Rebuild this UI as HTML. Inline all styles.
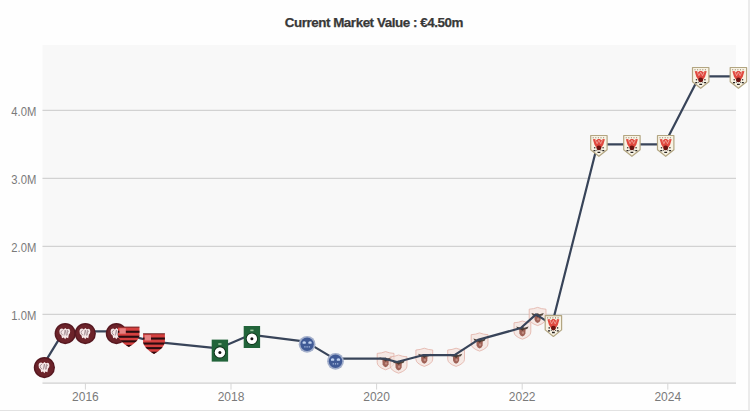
<!DOCTYPE html>
<html><head><meta charset="utf-8">
<style>
html,body{margin:0;padding:0;background:#fff;}
body{width:750px;height:411px;overflow:hidden;position:relative;}
svg{position:absolute;left:0;top:0;}
.yl,.xl{font-family:"Liberation Sans",sans-serif;font-size:12px;fill:#7a7a7a;}
.tt{font-family:"Liberation Sans",sans-serif;font-size:13.4px;font-weight:bold;letter-spacing:-0.45px;fill:#383838;stroke:#383838;stroke-width:0.25px;}
</style></head>
<body>
<svg width="750" height="411" viewBox="0 0 750 411">

<defs>
 <g id="cap">
  <circle cx="0" cy="0" r="10.6" fill="#561820"/>
  <circle cx="0" cy="0" r="9.2" fill="#6c232a"/>
  <path d="M-5.8,-2.2 Q-5.6,-5.2 -3,-5 L-1.5,-4.2 L0,-5.6 L1.6,-4.4 Q4.6,-5.6 5,-2.6 Q5.2,0 3.6,1.2 L3,4.6 L1,3.8 L0,5.6 L-1.4,3.8 L-3.2,4.6 L-3.8,1.8 Q-6,0.8 -5.8,-2.2 Z" fill="#f6e8e8"/>
  <path d="M-2.4,-3.4 Q-4.4,-3 -4.2,-1 Q-4,1 -2.4,1.2 M-1.2,2 L0,-3.6 L1.2,2 M2,-3.4 L2,1.6 M2,-3.4 Q4.2,-3 2.2,-1" stroke="#a08a90" stroke-width="0.85" fill="none"/>
 </g>
 <g id="fla">
  <clipPath id="flaclip"><path d="M-10.9,-10.3 L10.9,-10.3 L10.9,-1.5 Q9.8,4.5 0,10 Q-9.8,4.5 -10.9,-1.5 Z"/></clipPath>
  <g clip-path="url(#flaclip)">
   <rect x="-11" y="-11" width="22" height="22" fill="#d6403f"/>
   <rect x="-11" y="-11" width="22" height="1.3" fill="#3a1418"/>
   <rect x="-11" y="-6.4" width="22" height="2.1" fill="#2a0c10"/>
   <rect x="-11" y="-1.4" width="22" height="2.1" fill="#2a0c10"/>
   <rect x="-11" y="3.2" width="22" height="2.1" fill="#2a0c10"/>
   <rect x="-11" y="7.8" width="22" height="3.4" fill="#2a0c10"/>
   <rect x="-9.4" y="-8.8" width="6.4" height="5.4" fill="#e68282"/>
  </g>
 </g>>
 <g id="grn">
  <rect x="-8.2" y="-11" width="16.4" height="22" fill="#22643a"/>
  <circle cx="0" cy="1.8" r="6.1" fill="#0f3019"/>
  <circle cx="0" cy="1.8" r="5.2" fill="#ffffff"/>
  <circle cx="0" cy="1.8" r="1.5" fill="#141414"/>
  <rect x="-1.6" y="-7.4" width="3.2" height="1.6" fill="#98c49b"/>
 </g>
 <g id="blu">
  <circle cx="0" cy="0" r="8.4" fill="#a3afcb"/>
  <circle cx="0" cy="0" r="6.7" fill="#405a96"/>
  <path d="M-4.6,-2.4 Q-3,-3.6 -1.2,-2.4 L-1.4,-0.6 L-4.4,-0.6 Z M1.2,-2.4 Q3,-3.6 4.6,-2.4 L4.4,-0.6 L1.4,-0.6 Z" fill="#c0d2f0"/>
  <path d="M-2.8,2 L-1.6,2 L-1.6,3.2 L-2.8,3.2 Z M-0.6,2 L0.6,2 L0.6,3.2 L-0.6,3.2 Z M1.6,2 L2.8,2 L2.8,3.2 L1.6,3.2 Z" fill="#c0d2f0" opacity="0.85"/>
 </g>
 <g id="pnk">
  <path d="M-8.4,-7.4 Q-4,-7.6 0,-9.2 Q4,-7.6 8.4,-7.4 L8.4,1.8 Q8.4,6.2 0,9 Q-8.4,6.2 -8.4,1.8 Z" fill="#f4dfd9" fill-opacity="0.6" stroke="#e2b0a6" stroke-opacity="0.8" stroke-width="1"/>
  <path d="M-3.2,-1.2 L3.2,-1.2 L3,3.4 Q2.2,5.8 0,6.4 Q-2.2,5.8 -3,3.4 Z" fill="#8a3e32" opacity="0.8"/>
  <path d="M-6.2,-3.6 L-2,-2.4 L0,-3.4 L2,-2.4 L6.2,-3.6 L4.8,-1.2 L1.6,-0.6 L0,0.6 L-1.6,-0.6 L-4.8,-1.2 Z" fill="#3e3228" opacity="0.9"/>
  <circle cx="0.5" cy="2.6" r="1.2" fill="#d8aca0" opacity="0.6"/>
 </g>
 <g id="gld">
  <path d="M-8.2,-10.2 L8.2,-10.2 L8.2,4 L0,10.6 L-8.2,4 Z" fill="#f8f3e4" stroke="#b3a682" stroke-width="1.2" stroke-linejoin="round"/>
  <path d="M-6.2,-8 L-5.2,-8 M-3.6,-8 L-2.6,-8 M-1,-8 L0,-8 M1.6,-8 L2.6,-8 M4.2,-8 L5.2,-8" stroke="#8e7f6a" stroke-width="1.1"/>
  <path d="M-6,-6.4 L-4,-6.8 L-2.6,-5.4 L-1,-6.8 L1,-6.8 L2.6,-5.4 L4,-6.8 L6,-6.4 L4.4,-1 L1.4,3.6 L-1.4,3.6 L-4.4,-1 Z" fill="#e0493f"/>
  <path d="M-3.6,-6 L-1.8,-2 L0,-5.6 L1.8,-2 L3.6,-6" stroke="#f4b4aa" stroke-width="0.7" fill="none"/>
  <circle cx="0" cy="2.2" r="2.4" fill="#6a1410"/>
  <path d="M-5.4,5 L-3.4,5 M-1.4,6.6 L1.4,6.6 M3.4,5 L5.4,5" stroke="#262220" stroke-width="1.3"/>
  <path d="M-2.6,4.6 L-1.6,4.6 M1.6,4.6 L2.6,4.6" stroke="#4a4440" stroke-width="0.9"/>
  <circle cx="-4.2" cy="2" r="0.8" fill="#3a3330"/>
  <circle cx="4.2" cy="2" r="0.8" fill="#3a3330"/>
 </g>
</defs>

<rect x="0" y="0" width="750" height="411" fill="#fefefe"/>
<rect x="42.5" y="45" width="693.5" height="338" fill="#f8f8f8"/>
<line x1="42.5" x2="736" y1="314.4" y2="314.4" stroke="#d2d2d2" stroke-width="1.1"/>
<line x1="42.5" x2="736" y1="246.4" y2="246.4" stroke="#d2d2d2" stroke-width="1.1"/>
<line x1="42.5" x2="736" y1="178.4" y2="178.4" stroke="#d2d2d2" stroke-width="1.1"/>
<line x1="42.5" x2="736" y1="110.4" y2="110.4" stroke="#d2d2d2" stroke-width="1.1"/>

<line x1="42.5" x2="736" y1="383.1" y2="383.1" stroke="#d0d0d0" stroke-width="1.4"/>
<line x1="85.4" x2="85.4" y1="383" y2="389.6" stroke="#d6d6d6" stroke-width="1"/>
<line x1="231.0" x2="231.0" y1="383" y2="389.6" stroke="#d6d6d6" stroke-width="1"/>
<line x1="376.6" x2="376.6" y1="383" y2="389.6" stroke="#d6d6d6" stroke-width="1"/>
<line x1="522.2" x2="522.2" y1="383" y2="389.6" stroke="#d6d6d6" stroke-width="1"/>
<line x1="667.8" x2="667.8" y1="383" y2="389.6" stroke="#d6d6d6" stroke-width="1"/>

<text x="36.3" y="320.4" text-anchor="end" class="yl" textLength="25" lengthAdjust="spacingAndGlyphs">1.0M</text>
<text x="36.3" y="252.4" text-anchor="end" class="yl" textLength="25" lengthAdjust="spacingAndGlyphs">2.0M</text>
<text x="36.3" y="184.4" text-anchor="end" class="yl" textLength="25" lengthAdjust="spacingAndGlyphs">3.0M</text>
<text x="36.3" y="116.4" text-anchor="end" class="yl" textLength="25" lengthAdjust="spacingAndGlyphs">4.0M</text>

<text x="85.4" y="400.5" text-anchor="middle" class="xl">2016</text>
<text x="231.0" y="400.5" text-anchor="middle" class="xl">2018</text>
<text x="376.6" y="400.5" text-anchor="middle" class="xl">2020</text>
<text x="522.2" y="400.5" text-anchor="middle" class="xl">2022</text>
<text x="667.8" y="400.5" text-anchor="middle" class="xl">2024</text>

<text x="373.8" y="26.5" text-anchor="middle" class="tt">Current Market Value : €4.50m</text>
<use href="#pnk" x="385.6" y="360.8"/>
<use href="#pnk" x="398.6" y="364.2"/>
<use href="#pnk" x="424.3" y="357.4"/>
<use href="#pnk" x="456.1" y="357.4"/>
<use href="#pnk" x="479.6" y="342.1"/>
<use href="#pnk" x="522.4" y="330.2"/>
<use href="#pnk" x="537.6" y="316.6"/>
<path d="M43.0,365.4 L63.8,331.4 L83.9,331.4 L115.0,331.4 L127.4,334.8 L152.6,341.6 L218.5,348.4 L250.5,334.8 L305.7,341.6 L334.1,358.6 L384.0,358.6 L397.0,362.0 L422.7,355.2 L454.5,355.2 L478.0,339.9 L520.8,328.0 L536.0,314.4 L552.0,324.6 L597.5,144.4 L630.5,144.4 L664.3,144.4 L699.3,76.4 L737.0,76.4" fill="none" stroke="#384459" stroke-width="2.2" stroke-linejoin="round"/>
<use href="#cap" x="44.4" y="367.6"/>
<use href="#cap" x="65.2" y="333.6"/>
<use href="#cap" x="85.3" y="333.6"/>
<use href="#cap" x="116.4" y="333.6"/>
<use href="#fla" x="128.8" y="337.1"/>
<use href="#fla" x="154.0" y="343.9"/>
<use href="#grn" x="219.9" y="350.6"/>
<use href="#grn" x="251.9" y="337.0"/>
<use href="#blu" x="307.1" y="344.3"/>
<use href="#blu" x="335.5" y="361.3"/>
<use href="#gld" x="553.4" y="325.9"/>
<use href="#gld" x="598.9" y="145.7"/>
<use href="#gld" x="631.9" y="145.7"/>
<use href="#gld" x="665.7" y="145.7"/>
<use href="#gld" x="700.7" y="77.7"/>
<use href="#gld" x="738.4" y="77.7"/>
<rect x="748" y="0" width="2" height="411" fill="#ebebeb"/>
<rect x="0" y="410" width="750" height="1" fill="#e2e2e2"/>
</svg>
</body></html>
